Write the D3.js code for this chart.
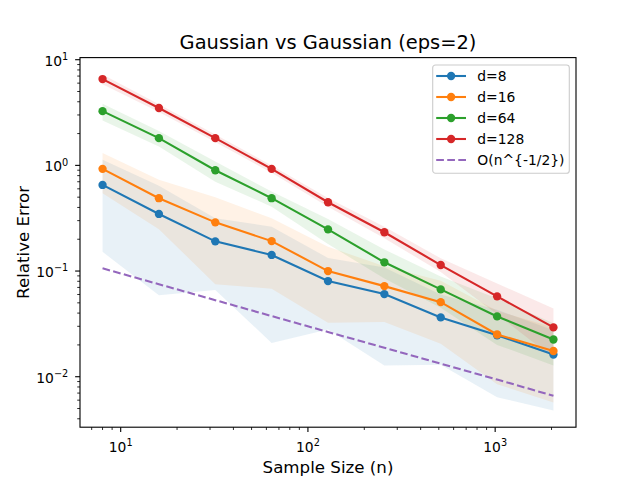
<!DOCTYPE html>
<html>
<head>
<meta charset="utf-8">
<script src="https://cdn.jsdelivr.net/npm/d3@7"></script>
<style>
    body { margin: 0; background: #fff; }
    svg { font-family: "DejaVu Sans", sans-serif; }
</style>
</head>
<body>
<svg id="chart"></svg>
<script>
const sizes = [8, 16, 32, 64, 128, 256, 512, 1024, 2048];
const labels = ["d=8", "d=16", "d=64", "d=128"];
const colors = ["#1f77b4", "#ff7f0e", "#2ca02c", "#d62728"];

// mean relative error per dimension
const err_d8   = [0.653, 0.347, 0.191, 0.142, 0.0804, 0.0605, 0.0364, 0.0247, 0.0162];
const err_d16  = [0.927, 0.489, 0.289, 0.192, 0.100, 0.072, 0.0508, 0.0251, 0.0175];
const err_d64  = [3.26, 1.81, 0.90, 0.489, 0.248, 0.121, 0.067, 0.0372, 0.0225];
const err_d128 = [6.56, 3.49, 1.81, 0.927, 0.448, 0.233, 0.114, 0.0576, 0.0293];

// shaded band, lower / upper edges
const lo_d8   = [0.152, 0.059, 0.066, 0.0209, 0.028, 0.0128, 0.013, 0.0064, 0.0048];
const hi_d8   = [1.13, 0.64, 0.316, 0.263, 0.133, 0.108, 0.060, 0.043, 0.0276];
const lo_d16  = [0.545, 0.249, 0.075, 0.068, 0.0324, 0.033, 0.0205, 0.0085, 0.0057];
const hi_d16  = [1.31, 0.73, 0.50, 0.316, 0.17, 0.111, 0.081, 0.042, 0.0293];
const lo_d64  = [2.66, 1.51, 0.70, 0.407, 0.18, 0.085, 0.045, 0.020, 0.0128];
const hi_d64  = [3.83, 2.12, 1.09, 0.565, 0.31, 0.16, 0.089, 0.055, 0.032];
const lo_d128 = [5.86, 3.20, 1.66, 0.85, 0.405, 0.204, 0.098, 0.039, 0.015];
const hi_d128 = [7.26, 3.78, 1.96, 1.00, 0.49, 0.263, 0.132, 0.0764, 0.0443];

// reference O(n^{-1/2}) line
const ref_line = [0.106, 0.075, 0.053, 0.0375, 0.0265, 0.0188, 0.0133, 0.0094, 0.0066];
const ref_label = "O(n^{-1/2})";

const xTicks = [10, 100, 1000];
const yTicks = [0.01, 0.1, 1, 10];

const means = [err_d8, err_d16, err_d64, err_d128];
const lows = [lo_d8, lo_d16, lo_d64, lo_d128];
const highs = [hi_d8, hi_d16, hi_d64, hi_d128];

const width = 640, height = 480;
const margin = ({top: 57.6, right: 64, bottom: 52.8, left: 80});
const pt = 100 / 72;

const svg = d3.select("#chart")
    .attr("width", width)
    .attr("height", height)
    .attr("viewBox", [0, 0, width, height]);

svg.append("rect").attr("width", width).attr("height", height).attr("fill", "white");

// matplotlib style 5% margins in log space
function logDomain(vals) {
    const lmin = Math.log10(d3.min(vals)), lmax = Math.log10(d3.max(vals));
    const pad = (lmax - lmin) * 0.05;
    return [Math.pow(10, lmin - pad), Math.pow(10, lmax + pad)];
}

const x = d3.scaleLog()
    .domain(logDomain(sizes))
    .range([margin.left, width - margin.right]);

const y = d3.scaleLog()
    .domain(logDomain([].concat(...lows, ...highs, ...means, ref_line)))
    .range([height - margin.bottom, margin.top]);

// bands
const area = d3.area()
    .x(d => x(d.n))
    .y0(d => y(d.lo))
    .y1(d => y(d.hi));

svg.append("g")
    .selectAll("path")
    .data(lows.map((lo, k) => sizes.map((n, i) => ({n: n, lo: lo[i], hi: highs[k][i]}))))
    .join("path")
    .attr("d", area)
    .attr("fill", (d, k) => colors[k])
    .attr("fill-opacity", 0.1);

const line = d3.line()
    .x(d => x(d.n))
    .y(d => y(d.v));

const series = svg.append("g")
    .selectAll("g")
    .data(means.map((m, k) => ({key: labels[k], color: colors[k], pts: sizes.map((n, i) => ({n: n, v: m[i]}))})))
    .join("g");

series.append("path")
    .attr("d", d => line(d.pts))
    .attr("fill", "none")
    .attr("stroke", d => d.color)
    .attr("stroke-width", 1.5 * pt);

series.selectAll("circle")
    .data(d => d.pts.map(p => ({...p, color: d.color})))
    .join("circle")
    .attr("cx", d => x(d.n))
    .attr("cy", d => y(d.v))
    .attr("r", 3 * pt)
    .attr("fill", d => d.color);

svg.append("path")
    .attr("d", line(sizes.map((n, i) => ({n: n, v: ref_line[i]}))))
    .attr("fill", "none")
    .attr("stroke", "#9467bd")
    .attr("stroke-width", 1.5 * pt)
    .attr("stroke-dasharray", `${5.55 * pt},${2.4 * pt}`);

// axes frame
svg.append("rect")
    .attr("x", margin.left)
    .attr("y", margin.top)
    .attr("width", width - margin.left - margin.right)
    .attr("height", height - margin.top - margin.bottom)
    .attr("fill", "none")
    .attr("stroke", "black")
    .attr("stroke-width", 0.8 * pt);

function minorTicks(scale) {
    const [a, b] = scale.domain();
    const out = [];
    for (let e = Math.floor(Math.log10(a)); e <= Math.ceil(Math.log10(b)); e++) {
        for (let m = 2; m < 10; m++) {
            const v = m * Math.pow(10, e);
            if (v >= a && v <= b) out.push(v);
        }
    }
    return out;
}

function supLabel(sel) {
    sel.append("tspan").text("10");
    sel.append("tspan")
        .attr("dy", -5.6)
        .style("font-size", `${7 * pt}px`)
        .text(d => d3.format("d")(Math.round(Math.log10(d))).replace("-", "\u2212"));
}

const yb = height - margin.bottom;

// x ticks
const gx = svg.append("g").attr("stroke", "black");
gx.selectAll("line.minor")
    .data(minorTicks(x))
    .join("line")
    .attr("x1", d => x(d)).attr("x2", d => x(d))
    .attr("y1", yb).attr("y2", yb + 2 * pt)
    .attr("stroke-width", 0.6 * pt);
gx.selectAll("line.major")
    .data(xTicks)
    .join("line")
    .attr("class", "major")
    .attr("x1", d => x(d)).attr("x2", d => x(d))
    .attr("y1", yb).attr("y2", yb + 3.5 * pt)
    .attr("stroke-width", 0.8 * pt);

svg.append("g")
    .selectAll("text")
    .data(xTicks)
    .join("text")
    .attr("x", d => x(d))
    .attr("y", 451.7)
    .attr("text-anchor", "middle")
    .style("font-size", `${10 * pt}px`)
    .call(supLabel);

// y ticks
const gy = svg.append("g").attr("stroke", "black");
gy.selectAll("line.minor")
    .data(minorTicks(y))
    .join("line")
    .attr("x1", margin.left).attr("x2", margin.left - 2 * pt)
    .attr("y1", d => y(d)).attr("y2", d => y(d))
    .attr("stroke-width", 0.6 * pt);
gy.selectAll("line.major")
    .data(yTicks)
    .join("line")
    .attr("class", "major")
    .attr("x1", margin.left).attr("x2", margin.left - 3.5 * pt)
    .attr("y1", d => y(d)).attr("y2", d => y(d))
    .attr("stroke-width", 0.8 * pt);

svg.append("g")
    .selectAll("text")
    .data(yTicks)
    .join("text")
    .attr("x", margin.left - 7 * pt - 2)
    .attr("y", d => y(d) + 6)
    .attr("text-anchor", "end")
    .style("font-size", `${10 * pt}px`)
    .call(supLabel);

// titles
svg.append("text")
    .attr("x", margin.left + (width - margin.left - margin.right) / 2)
    .attr("y", 49)
    .attr("text-anchor", "middle")
    .style("font-size", `${14 * pt}px`)
    .text("Gaussian vs Gaussian (eps=2)");

svg.append("text")
    .attr("x", margin.left + (width - margin.left - margin.right) / 2)
    .attr("y", 473)
    .attr("text-anchor", "middle")
    .style("font-size", `${12 * pt}px`)
    .text("Sample Size (n)");

svg.append("text")
    .attr("transform", `translate(29,${margin.top + (height - margin.top - margin.bottom) / 2}) rotate(-90)`)
    .attr("text-anchor", "middle")
    .style("font-size", `${12 * pt}px`)
    .text("Relative Error");

// legend
const legendItems = labels.map((l, k) => ({label: l, color: colors[k], dash: false}))
    .concat([{label: ref_label, color: "#9467bd", dash: true}]);

const legend = svg.append("g").attr("transform", "translate(432.7,65)");
legend.append("rect")
    .attr("width", 136.6)
    .attr("height", 108.3)
    .attr("rx", 2.8)
    .attr("fill", "white")
    .attr("fill-opacity", 0.8)
    .attr("stroke", "#cccccc")
    .attr("stroke-width", 0.8 * pt);

const item = legend.selectAll("g")
    .data(legendItems)
    .join("g")
    .attr("transform", (d, i) => `translate(0,${11 + i * 21})`);

item.append("line")
    .attr("x1", 3.5).attr("x2", 33.3)
    .attr("stroke", d => d.color)
    .attr("stroke-width", 1.5 * pt)
    .attr("stroke-dasharray", d => d.dash ? `${5.55 * pt},${2.4 * pt}` : null);

item.filter(d => !d.dash)
    .append("circle")
    .attr("cx", 18.4)
    .attr("r", 3 * pt)
    .attr("fill", d => d.color);

item.append("text")
    .attr("x", 44.6)
    .attr("dy", "0.36em")
    .style("font-size", `${10 * pt}px`)
    .text(d => d.label);
</script>
</body>
</html>
